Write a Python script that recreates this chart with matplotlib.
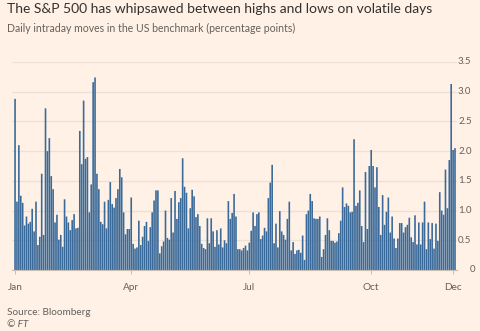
import matplotlib
matplotlib.use("Agg")
import matplotlib.pyplot as plt
import numpy as np

# Daily intraday moves (percentage points)
jan_mar = [2.88, 1.15, 2.10, 1.25, 1.13, 0.75, 0.90, 0.78, 0.81, 1.03, 0.65, 1.15, 0.42, 0.56, 1.62,
           0.59, 2.72, 2.00, 2.22, 1.58, 1.36, 0.80, 0.93, 0.51, 0.59, 0.39, 1.19, 0.90, 0.80, 0.67,
           0.84, 0.94, 0.70, 0.71, 2.34, 1.78, 2.85, 1.87, 1.90, 0.97, 1.44, 3.16, 3.24, 1.62, 1.36,
           0.81, 0.77, 1.15, 0.70, 1.18, 1.48, 1.11, 1.05, 1.21, 1.36, 1.70, 1.56, 0.97, 0.60, 0.69,
           0.69]
apr_jun = [1.22, 0.44, 0.36, 0.38, 0.83, 0.42, 0.56, 0.74, 0.81, 0.49, 0.72, 0.97, 1.17, 1.34, 1.34,
           0.28, 0.40, 0.48, 1.00, 0.54, 0.51, 1.21, 0.63, 1.33, 0.86, 1.14, 1.21, 1.88, 1.40, 1.30,
           0.70, 1.04, 1.35, 1.24, 0.89, 0.94, 0.74, 0.44, 0.37, 0.35, 0.87, 0.45, 0.87, 0.65, 0.39,
           0.67, 0.43, 0.70, 0.38, 0.50, 0.45, 1.16, 0.86, 0.96, 1.28, 0.90, 0.35, 0.35, 0.33, 0.37,
           0.41, 0.33]
jul_sep = [0.46, 0.66, 0.97, 0.74, 0.94, 0.97, 0.52, 0.58, 0.71, 0.65, 1.21, 1.47, 1.77, 0.45, 0.78,
           0.38, 0.99, 0.65, 0.59, 0.51, 0.86, 1.15, 0.33, 0.47, 0.27, 0.33, 0.34, 0.29, 0.58, 0.17,
           0.94, 1.00, 1.28, 1.16, 0.87, 0.86, 0.86, 0.90, 0.22, 0.35, 0.59, 0.87, 0.67, 0.49, 0.49,
           0.46, 0.48, 0.62, 0.83, 1.39, 1.06, 1.12, 1.08, 0.97, 0.98, 2.20, 1.08, 1.13, 1.34, 0.74,
           0.47, 1.65, 0.69, 1.75]
oct_dec = [2.02, 1.75, 1.39, 1.73, 1.06, 0.59, 1.26, 0.76, 0.98, 1.22, 0.63, 0.90, 0.53, 0.37, 0.53,
           0.79, 0.79, 0.63, 0.72, 0.76, 0.88, 0.55, 0.47, 0.92, 0.43, 0.80, 0.43, 0.80, 1.15, 0.35,
           0.80, 0.52, 0.79, 0.36, 0.78, 0.49, 1.31, 1.00, 0.93, 1.69, 1.04, 1.85, 3.13, 2.02, 2.05]

values = jan_mar + apr_jun + jul_sep + oct_dec
month_labels = ["Jan", "Apr", "Jul", "Oct", "Dec"]
month_index = [0, len(jan_mar), len(jan_mar) + len(apr_jun),
               len(jan_mar) + len(apr_jun) + len(jul_sep), len(values) - 2]
y_ticks = [0, 0.5, 1.0, 1.5, 2.0, 2.5, 3.0, 3.5]
y_labels = ["0", "0.5", "1.0", "1.5", "2.0", "2.5", "3.0", "3.5"]

BG = "#FFF1E5"
BAR = "#3A6A9A"
GREY = "#66605C"
FONT = "Lato"

W, H = 480, 331
fig = plt.figure(figsize=(W / 100, H / 100), dpi=100, facecolor=BG)
left, right, top, bottom = 12, 457, 62, 270
ax = fig.add_axes([left / W, 1 - bottom / H, (right - left) / W, (bottom - top) / H])
ax.set_facecolor(BG)

x = np.arange(len(values))
ax.bar(x, values, width=0.86, color=BAR, linewidth=0, snap=False, zorder=3)
ax.set_xlim(-1.6, len(values) - 1 + 1.05)
ax.set_ylim(0, 3.5)

for s in ["top", "right", "left"]:
    ax.spines[s].set_visible(False)
ax.spines["bottom"].set_color("#C9BEB4")
ax.spines["bottom"].set_linewidth(0.8)
ax.spines["bottom"].set_zorder(4)

ax.set_yticks(y_ticks)
ax.set_yticklabels([])
ax.tick_params(axis="y", length=0)
ax.grid(axis="y", color="#EDE0D4", linewidth=0.9, zorder=0)

for yv, lab in zip(y_ticks, y_labels):
    xpx = 469.5 if lab == "0" else 458
    ax.text((xpx - left) / (right - left), yv, lab, transform=ax.get_yaxis_transform(),
            ha="left", va="center", fontsize=7, color=GREY, family=FONT)

ax.set_xticks(month_index)
ax.set_xticklabels(month_labels, family=FONT)
ax.tick_params(axis="x", length=3, width=0.7, color="#C9BEB4", labelsize=7.2,
               labelcolor=GREY, pad=6)

fig.text(7 / W, 1 - 13 / H, "The S&P 500 has whipsawed between highs and lows on volatile days",
         fontsize=10, color="#33302E", family=FONT, ha="left", va="baseline")
fig.text(7 / W, 1 - 32 / H, "Daily intraday moves in the US benchmark (percentage points)",
         fontsize=7.6, color=GREY, family=FONT, ha="left", va="baseline")
fig.text(7 / W, 1 - 315 / H, "Source: Bloomberg", fontsize=7.2, color=GREY, family=FONT,
         ha="left", va="baseline")
fig.text(7 / W, 1 - 327 / H, "© FT", fontsize=7.2, color=GREY, family=FONT, style="italic",
         ha="left", va="baseline")

fig.savefig("out.png", dpi=100, facecolor=BG)
